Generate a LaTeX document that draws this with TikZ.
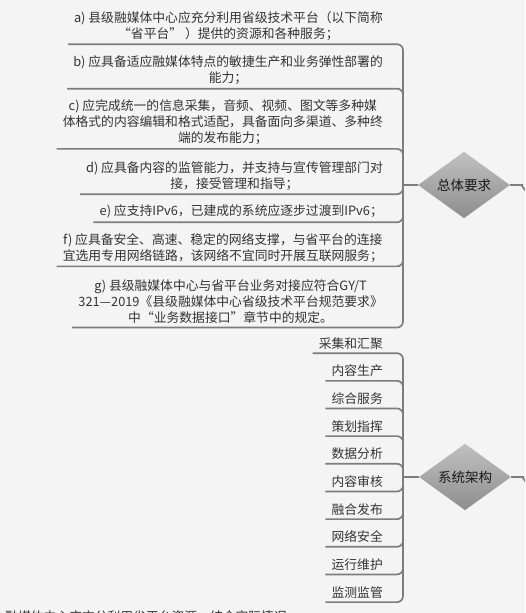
\documentclass[tikz,border=0pt]{standalone}
\usepackage{fontspec}
\newfontfamily\cjk{Noto Sans CJK SC}
\usetikzlibrary{shapes.geometric}
\definecolor{bg}{RGB}{244,244,244}
\definecolor{ln}{RGB}{125,125,125}
\definecolor{tx}{RGB}{51,51,51}
\definecolor{hubtop}{RGB}{192,192,192}
\definecolor{hubbot}{RGB}{142,142,142}
\begin{document}
\begin{tikzpicture}[x=1pt,y=1pt,
  item/.style={anchor=east, align=center, inner xsep=6pt, inner ysep=3.7pt,
    font=\cjk\fontsize{12.8}{16}\selectfont, text=tx},
  branch/.style={draw=ln, line width=1.7pt, rounded corners=6pt},
  hub/.style={diamond, minimum width=92pt, minimum height=50pt, inner sep=0pt,
    top color=hubtop, bottom color=hubbot, draw=none,
    font=\cjk\fontsize{13.5}{16}\selectfont, text=black!90}]
\useasboundingbox (0,0) rectangle (525,-613);
\fill[bg] (0,0) rectangle (525,-613);
\clip (0,0) rectangle (525,-613);

% group 1
\node[item] (a) at (389,-25.8) {a) 县级融媒体中心应充分利用省级技术平台（以下简称\\“省平台” ）提供的资源和各种服务；};
\node[item] (b) at (389,-70.3) {b) 应具备适应融媒体特点的敏捷生产和业务弹性部署的\\能力；};
\node[item] (c) at (389,-122.5) {c) 应完成统一的信息采集，音频、视频、图文等多种媒\\体格式的内容编辑和格式适配，具备面向多渠道、多种终\\端的发布能力；};
\node[item] (d) at (389,-175.8) {d) 应具备内容的监管能力，并支持与宣传管理部门对\\接，接受管理和指导；};
\node[item] (e) at (389,-211.7) {e) 应支持IPv6，已建成的系统应逐步过渡到IPv6；};
\node[item] (f) at (389,-248) {f) 应具备安全、高速、稳定的网络支撑，与省平台的连接\\宜选用专用网络链路，该网络不宜同时开展互联网服务；};
\node[item] (g) at (389,-301.7) {g) 县级融媒体中心与省平台业务对接应符合GY/T\\321—2019《县级融媒体中心省级技术平台规范要求》\\中“业务数据接口”章节中的规定。};

\node[hub] (h1) at (464,-185) {总体要求};
\coordinate (s1) at (403,-185);
\draw[branch] (h1.west) -- (s1);
\foreach \n in {a,b,c,d,e,f,g} \draw[branch] (s1) |- (\n.south west);
\draw[branch] (h1.east) -- (516,-185) .. controls (521,-185) and (523,-187) .. (527,-193);

% group 2
\node[item] (p1) at (389,-343.3) {采集和汇聚};
\node[item] (p2) at (389,-370.97) {内容生产};
\node[item] (p3) at (389,-398.63) {综合服务};
\node[item] (p4) at (389,-426.3) {策划指挥};
\node[item] (p5) at (389,-453.97) {数据分析};
\node[item] (p6) at (389,-481.63) {内容审核};
\node[item] (p7) at (389,-509.3) {融合发布};
\node[item] (p8) at (389,-536.97) {网络安全};
\node[item] (p9) at (389,-564.63) {运行维护};
\node[item] (p10) at (389,-592.3) {监测监管};

\node[hub] (h2) at (465,-477) {系统架构};
\coordinate (s2) at (403,-477);
\draw[branch] (h2.west) -- (s2);
\foreach \n in {p1,p2,p3,p4,p5,p6,p7,p8,p9,p10} \draw[branch] (s2) |- (\n.south west);
\draw[branch] (h2.east) -- (517,-477) .. controls (522,-477) and (524,-479) .. (528,-485);

% text cut off at the bottom edge, as in the reference
\node[item] (t) at (293,-617) {融媒体中心应充分利用省平台资源，结合实际情况};
\end{tikzpicture}
\end{document}
